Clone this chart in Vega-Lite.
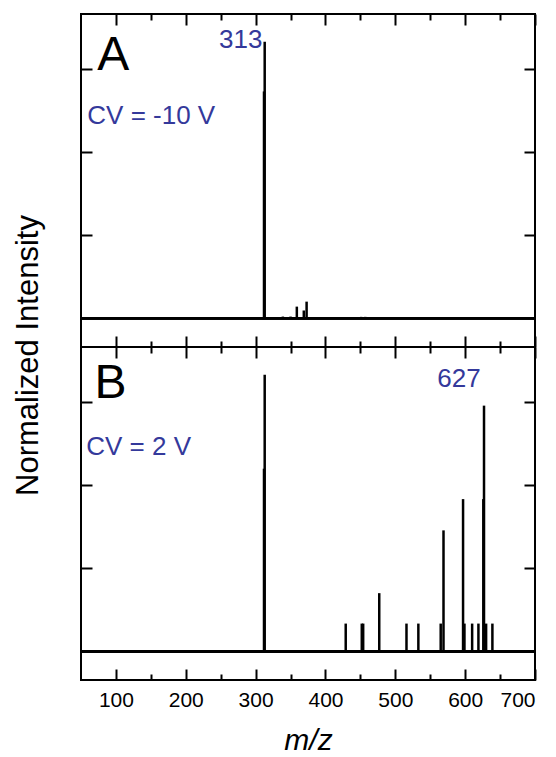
{
  "$schema": "https://vega.github.io/schema/vega-lite/v6.json",
  "background": "white",
  "padding": {"left": 11, "top": 12, "right": 5, "bottom": 0},
  "bounds": "flush",
  "spacing": 0,
  "config": {
    "font": "Liberation Sans",
    "view": {"stroke": "black", "strokeWidth": 2},
    "axis": {"grid": false, "domain": false, "tickColor": "black", "tickWidth": 2, "labelColor": "black", "titleColor": "black", "labelFont": "Liberation Sans", "titleFont": "Liberation Sans", "titleFontWeight": "normal"}
  },
  "datasets": {
    "peaksA": [
      {"mz": 312, "intensity": 0.82},
      {"mz": 313, "intensity": 1.0},
      {"mz": 339, "intensity": 0.006},
      {"mz": 350, "intensity": 0.006},
      {"mz": 359, "intensity": 0.042},
      {"mz": 369, "intensity": 0.028},
      {"mz": 373, "intensity": 0.06},
      {"mz": 451, "intensity": 0.005},
      {"mz": 457, "intensity": 0.005},
      {"mz": 461, "intensity": 0.004},
      {"mz": 532, "intensity": 0.004},
      {"mz": 548, "intensity": 0.004}
    ],
    "peaksB": [
      {"mz": 312, "intensity": 0.66},
      {"mz": 313, "intensity": 1.0},
      {"mz": 429, "intensity": 0.1},
      {"mz": 452, "intensity": 0.1},
      {"mz": 454, "intensity": 0.1},
      {"mz": 477, "intensity": 0.21},
      {"mz": 516, "intensity": 0.1},
      {"mz": 533, "intensity": 0.1},
      {"mz": 565, "intensity": 0.1},
      {"mz": 569, "intensity": 0.437},
      {"mz": 597, "intensity": 0.55},
      {"mz": 599, "intensity": 0.1},
      {"mz": 610, "intensity": 0.1},
      {"mz": 619, "intensity": 0.1},
      {"mz": 626, "intensity": 0.55},
      {"mz": 627, "intensity": 0.888},
      {"mz": 630, "intensity": 0.1},
      {"mz": 639, "intensity": 0.1}
    ],
    "labelsA": [
      {"text": "A", "mz": 73.3, "y": 0.897, "kind": "letter"},
      {"text": "313", "mz": 247.6, "y": 0.976, "kind": "note"},
      {"text": "CV = -10 V", "mz": 59, "y": 0.701, "kind": "note"}
    ],
    "labelsB": [
      {"text": "B", "mz": 69.3, "y": 0.915, "kind": "letter"},
      {"text": "627", "mz": 560, "y": 0.954, "kind": "note"},
      {"text": "CV = 2 V", "mz": 57.5, "y": 0.709, "kind": "note"}
    ]
  },
  "vconcat": [
    {
      "width": 454,
      "height": 333,
      "layer": [
        {
          "data": {"name": "peaksA"},
          "mark": {"type": "rule", "color": "black", "strokeWidth": 2.5},
          "encoding": {
            "x": {"field": "mz", "type": "quantitative", "scale": {"domain": [50, 700], "nice": false, "zero": false},
              "axis": {"orient": "bottom", "values": [100, 200, 300, 400, 500, 600, 700], "tickSize": -11, "labels": false, "title": null}},
            "y": {"field": "intensity", "type": "quantitative", "scale": {"domain": [-0.104, 1.1], "nice": false, "zero": false},
              "axis": {"orient": "left", "values": [0.3, 0.6, 0.9], "tickSize": -11, "labels": false, "title": "Normalized Intensity", "titleFontSize": 31, "titleAngle": -90, "titleX": -53, "titleY": 341, "titleAlign": "center", "titleBaseline": "middle"}},
            "y2": {"datum": 0}
          }
        },
        {
          "data": {"name": "peaksA"},
          "mark": {"type": "rule", "color": "black", "strokeWidth": 2},
          "encoding": {"y": {"datum": 0, "type": "quantitative", "axis": null}}
        },
        {
          "data": {"name": "peaksA"},
          "mark": {"type": "point", "opacity": 0},
          "encoding": {
            "x": {"field": "mz", "type": "quantitative", "axis": {"orient": "bottom", "values": [150, 250, 350, 450, 550, 650], "tickSize": -6, "labels": false, "title": null}},
            "y": {"field": "intensity", "type": "quantitative", "axis": {"orient": "right", "values": [0.3, 0.6, 0.9], "tickSize": -11, "labels": false, "title": null}}
          }
        },
        {
          "data": {"name": "peaksA"},
          "mark": {"type": "point", "opacity": 0},
          "encoding": {
            "x": {"field": "mz", "type": "quantitative", "axis": {"orient": "top", "values": [100, 200, 300, 400, 500, 600, 700], "tickSize": -11, "labels": false, "title": null}},
            "y": {"field": "intensity", "type": "quantitative", "axis": null}
          }
        },
        {
          "data": {"name": "peaksA"},
          "mark": {"type": "point", "opacity": 0},
          "encoding": {
            "x": {"field": "mz", "type": "quantitative", "axis": {"orient": "top", "values": [150, 250, 350, 450, 550, 650], "tickSize": -6, "labels": false, "title": null}},
            "y": {"field": "intensity", "type": "quantitative", "axis": null}
          }
        },
        {
          "data": {"name": "labelsA"},
          "transform": [{"filter": "datum.kind === 'letter'"}],
          "mark": {"type": "text", "align": "left", "baseline": "alphabetic", "fontSize": 48, "color": "black", "font": "Liberation Sans"},
          "encoding": {
            "x": {"field": "mz", "type": "quantitative", "axis": null},
            "y": {"field": "y", "type": "quantitative", "axis": null},
            "text": {"field": "text"}
          }
        },
        {
          "data": {"name": "labelsA"},
          "transform": [{"filter": "datum.kind === 'note'"}],
          "mark": {"type": "text", "align": "left", "baseline": "alphabetic", "fontSize": 26, "color": "#34399b", "font": "Liberation Sans"},
          "encoding": {
            "x": {"field": "mz", "type": "quantitative", "axis": null},
            "y": {"field": "y", "type": "quantitative", "axis": null},
            "text": {"field": "text"}
          }
        }
      ],
      "resolve": {"axis": {"x": "independent", "y": "independent"}}
    },
    {
      "width": 454,
      "height": 333,
      "layer": [
        {
          "data": {"name": "peaksB"},
          "mark": {"type": "rule", "color": "black", "strokeWidth": 2.5},
          "encoding": {
            "x": {"field": "mz", "type": "quantitative", "scale": {"domain": [50, 700], "nice": false, "zero": false},
              "axis": {"orient": "bottom", "values": [100, 200, 300, 400, 500, 600, 700], "tickSize": -11, "labels": true, "labelFontSize": 21, "labelPadding": 20, "title": "m/z", "titleFontSize": 30, "titleFontStyle": "italic", "titlePadding": 15}},
            "y": {"field": "intensity", "type": "quantitative", "scale": {"domain": [-0.104, 1.1], "nice": false, "zero": false},
              "axis": {"orient": "left", "values": [0.3, 0.6, 0.9], "tickSize": -11, "labels": false, "title": null}},
            "y2": {"datum": 0}
          }
        },
        {
          "data": {"name": "peaksB"},
          "mark": {"type": "rule", "color": "black", "strokeWidth": 2},
          "encoding": {"y": {"datum": 0, "type": "quantitative", "axis": null}}
        },
        {
          "data": {"name": "peaksB"},
          "mark": {"type": "point", "opacity": 0},
          "encoding": {
            "x": {"field": "mz", "type": "quantitative", "axis": {"orient": "bottom", "values": [150, 250, 350, 450, 550, 650], "tickSize": -6, "labels": false, "title": null}},
            "y": {"field": "intensity", "type": "quantitative", "axis": {"orient": "right", "values": [0.3, 0.6, 0.9], "tickSize": -11, "labels": false, "title": null}}
          }
        },
        {
          "data": {"name": "peaksB"},
          "mark": {"type": "point", "opacity": 0},
          "encoding": {
            "x": {"field": "mz", "type": "quantitative", "axis": {"orient": "top", "values": [100, 200, 300, 400, 500, 600, 700], "tickSize": -11, "labels": false, "title": null}},
            "y": {"field": "intensity", "type": "quantitative", "axis": null}
          }
        },
        {
          "data": {"name": "peaksB"},
          "mark": {"type": "point", "opacity": 0},
          "encoding": {
            "x": {"field": "mz", "type": "quantitative", "axis": {"orient": "top", "values": [150, 250, 350, 450, 550, 650], "tickSize": -6, "labels": false, "title": null}},
            "y": {"field": "intensity", "type": "quantitative", "axis": null}
          }
        },
        {
          "data": {"name": "labelsB"},
          "transform": [{"filter": "datum.kind === 'letter'"}],
          "mark": {"type": "text", "align": "left", "baseline": "alphabetic", "fontSize": 48, "color": "black", "font": "Liberation Sans"},
          "encoding": {
            "x": {"field": "mz", "type": "quantitative", "axis": null},
            "y": {"field": "y", "type": "quantitative", "axis": null},
            "text": {"field": "text"}
          }
        },
        {
          "data": {"name": "labelsB"},
          "transform": [{"filter": "datum.kind === 'note'"}],
          "mark": {"type": "text", "align": "left", "baseline": "alphabetic", "fontSize": 26, "color": "#34399b", "font": "Liberation Sans"},
          "encoding": {
            "x": {"field": "mz", "type": "quantitative", "axis": null},
            "y": {"field": "y", "type": "quantitative", "axis": null},
            "text": {"field": "text"}
          }
        }
      ],
      "resolve": {"axis": {"x": "independent", "y": "independent"}}
    }
  ]
}
